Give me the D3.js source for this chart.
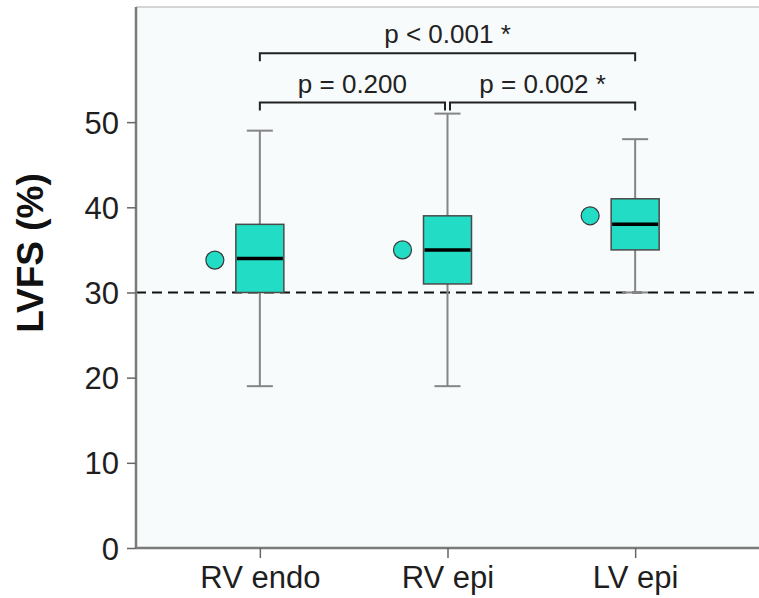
<!DOCTYPE html>
<html>
<head>
<meta charset="utf-8">
<script src="https://cdn.jsdelivr.net/npm/d3@7"></script>
<style>
  body { margin: 0; background: #fff; }
  text { font-family: "Liberation Sans", Arial, sans-serif; }
</style>
</head>
<body>
<script>
// box plot values
let categories = ["RV endo", "RV epi", "LV epi"];
let whiskerLow = [19, 19, 30];
let q1 = [30, 31, 35];
let median = [34, 35, 38];
let q3 = [38, 39, 41];
let whiskerHigh = [49, 51, 48];
let means = [33.8, 35, 39];
let yTicks = [0, 10, 20, 30, 40, 50];
let threshold = 30;

// significance brackets
let compFrom = ["RV endo", "RV epi", "RV endo"];
let compTo = ["RV epi", "LV epi", "LV epi"];
let compLabel = ["p = 0.200", "p = 0.002 *", "p < 0.001 *"];
let compLevel = [52.3, 52.3, 58.1];

let width = 759;
let height = 598;
let margin = {top: 8, right: 0, bottom: 50, left: 136};

let boxes = categories.map((c, i) => ({
	cat: c, lo: whiskerLow[i], q1: q1[i], med: median[i],
	q3: q3[i], hi: whiskerHigh[i], mean: means[i]
}));

let xScale = d3.scalePoint()
	.domain(categories)
	.range([margin.left, width - margin.right])
	.padding(0.66);

let yScale = d3.scaleLinear()
	.domain([0, 63.4])
	.range([height - margin.bottom, margin.top]);

let svg = d3.select("body").append("svg")
	.attr("width", width)
	.attr("height", height);

// plot background
svg.append("rect")
	.attr("x", margin.left)
	.attr("y", margin.top)
	.attr("width", width - margin.left - margin.right)
	.attr("height", height - margin.bottom - margin.top)
	.attr("fill", "#f7fbfb");

svg.append("line")
	.attr("x1", margin.left).attr("x2", width)
	.attr("y1", margin.top - 1).attr("y2", margin.top - 1)
	.attr("stroke", "#d4d4d4")
	.attr("stroke-width", 2);

// threshold line
svg.append("line")
	.attr("x1", margin.left).attr("x2", width)
	.attr("y1", yScale(threshold)).attr("y2", yScale(threshold))
	.attr("stroke", "#111")
	.attr("stroke-width", 2)
	.attr("stroke-dasharray", "10,6");

let boxW = 48;
let capW = 26;

let g = svg.selectAll("g.box").data(boxes).enter()
	.append("g").attr("class", "box");

// whiskers
g.append("line")
	.attr("x1", d => xScale(d.cat)).attr("x2", d => xScale(d.cat))
	.attr("y1", d => yScale(d.lo)).attr("y2", d => yScale(d.hi))
	.attr("stroke", "#858585").attr("stroke-width", 2);

g.selectAll("line.cap")
	.data(d => [d.lo, d.hi].map(v => ({cat: d.cat, v: v})))
	.enter().append("line").attr("class", "cap")
	.attr("x1", d => xScale(d.cat) - capW / 2)
	.attr("x2", d => xScale(d.cat) + capW / 2)
	.attr("y1", d => yScale(d.v)).attr("y2", d => yScale(d.v))
	.attr("stroke", "#858585").attr("stroke-width", 2);

g.append("rect")
	.attr("x", d => xScale(d.cat) - boxW / 2)
	.attr("y", d => yScale(d.q3))
	.attr("width", boxW)
	.attr("height", d => yScale(d.q1) - yScale(d.q3))
	.attr("fill", "#22dcc5")
	.attr("stroke", "#4a4a4a")
	.attr("stroke-width", 1.5);

g.append("line")
	.attr("x1", d => xScale(d.cat) - boxW / 2 + 1)
	.attr("x2", d => xScale(d.cat) + boxW / 2 - 1)
	.attr("y1", d => yScale(d.med)).attr("y2", d => yScale(d.med))
	.attr("stroke", "#000").attr("stroke-width", 3.5);

g.append("circle")
	.attr("cx", d => xScale(d.cat) - 45)
	.attr("cy", d => yScale(d.mean))
	.attr("r", 9)
	.attr("fill", "#22dcc5")
	.attr("stroke", "#3a3a3a")
	.attr("stroke-width", 1.2);

// axes
let yAxis = d3.axisLeft(yScale)
	.tickValues(yTicks)
	.tickSize(9)
	.tickPadding(8);

let xAxis = d3.axisBottom(xScale)
	.tickSize(10)
	.tickPadding(9);

let yG = svg.append("g")
	.attr("transform", `translate(${margin.left},0)`)
	.call(yAxis);

let xG = svg.append("g")
	.attr("transform", `translate(0,${height - margin.bottom})`)
	.call(xAxis);

[yG, xG].forEach(a => {
	a.select(".domain").attr("stroke", "#7a7a7a").attr("stroke-width", 2.5);
	a.selectAll(".tick line").attr("stroke", "#666").attr("stroke-width", 1.5);
	a.selectAll(".tick text").attr("fill", "#1e1e1e").style("font-size", "31px");
});
yG.select(".domain").attr("d", `M0,${yScale.range()[0]}V${margin.top - 1}`);
xG.select(".domain").attr("d", `M${margin.left},0H${width}`);
yG.selectAll(".tick text").attr("dy", "0.36em");
xG.selectAll(".tick text").attr("dy", "0.68em");

svg.append("text")
	.attr("transform", `translate(43,${(height - margin.bottom + margin.top) / 2 - 25}) rotate(-90)`)
	.attr("text-anchor", "middle")
	.style("font-size", "37px")
	.style("font-weight", "bold")
	.attr("fill", "#111")
	.text("LVFS (%)");

// brackets
let tickLen = 8;
compLabel.forEach((lab, i) => {
	let x1 = xScale(compFrom[i]);
	let x2 = xScale(compTo[i]);
	if (compLevel[i] === compLevel[0]) {
		if (compFrom[i] === "RV epi") x1 += 2.5;
		if (compTo[i] === "RV epi") x2 -= 2.5;
	}
	let y = yScale(compLevel[i]);
	svg.append("path")
		.attr("d", `M${x1},${y + tickLen}V${y}H${x2}V${y + tickLen}`)
		.attr("fill", "none")
		.attr("stroke", "#222")
		.attr("stroke-width", 2);
	svg.append("text")
		.attr("x", (x1 + x2) / 2)
		.attr("y", y - 10)
		.attr("text-anchor", "middle")
		.style("font-size", "26px")
		.attr("fill", "#222")
		.text(lab);
});
</script>
</body>
</html>
